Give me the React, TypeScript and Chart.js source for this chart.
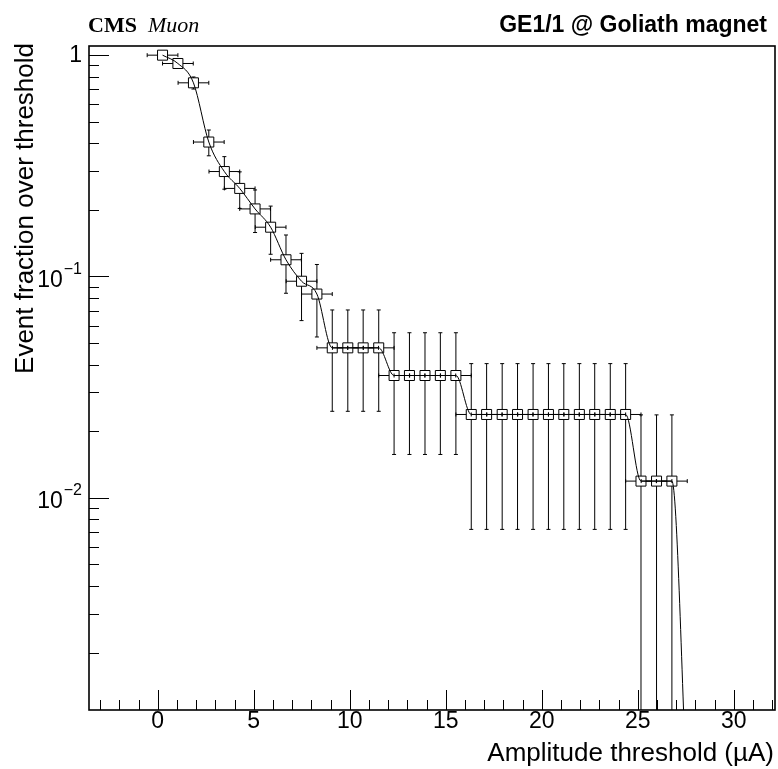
import { useEffect, useRef } from 'react';
import { Chart, registerables } from 'chart.js';

Chart.register(...registerables);

// ---- data ----
const X_VALUES = [
  0.25, 1.05, 1.86, 2.66, 3.47, 4.27, 5.07, 5.88, 6.68, 7.49, 8.29, 9.09, 9.9, 10.7, 11.51, 12.31,
  13.11, 13.92, 14.72, 15.53, 16.33, 17.13, 17.94, 18.74, 19.55, 20.35, 21.15, 21.96, 22.76, 23.57,
  24.37, 25.17, 25.98, 26.78, 27.59,
];
const Y_VALUES = [
  1.0, 0.917, 0.75, 0.405, 0.298, 0.25, 0.202, 0.167, 0.119, 0.0952, 0.0833, 0.0476, 0.0476, 0.0476,
  0.0476, 0.0357, 0.0357, 0.0357, 0.0357, 0.0357, 0.0238, 0.0238, 0.0238, 0.0238, 0.0238, 0.0238,
  0.0238, 0.0238, 0.0238, 0.0238, 0.0238, 0.0119, 0.0119, 0.0119, 0.0004,
];
const Y_ERRORS = [
  0, 0.03, 0.047, 0.054, 0.05, 0.047, 0.044, 0.041, 0.035, 0.032, 0.03, 0.023, 0.023, 0.023, 0.023,
  0.02, 0.02, 0.02, 0.02, 0.02, 0.0166, 0.0166, 0.0166, 0.0166, 0.0166, 0.0166, 0.0166, 0.0166,
  0.0166, 0.0166, 0.0166, 0.0118, 0.0118, 0.0118, 0,
];
const X_ERROR = 0.8;

const X_MIN = -3.58;
const X_MAX = 32.15;
const Y_MIN = 0.0011;
const Y_MAX = 1.1;

const X_MAJOR_TICKS = [0, 5, 10, 15, 20, 25, 30];
const X_TICK_LABELS = ['0', '5', '10', '15', '20', '25', '30'];
const X_MINOR_TICKS = [
  -3, -2, -1, 1, 2, 3, 4, 6, 7, 8, 9, 11, 12, 13, 14, 16, 17, 18, 19, 21, 22, 23, 24, 26, 27, 28, 29,
  31, 32,
];
const Y_MAJOR_TICKS = [1, 0.1, 0.01];
const Y_TICK_BASES = ['1', '10', '10'];
const Y_TICK_EXPONENTS = ['', '\u22121', '\u22122'];
const Y_MINOR_TICKS = [
  0.9, 0.8, 0.7, 0.6, 0.5, 0.4, 0.3, 0.2, 0.09, 0.08, 0.07, 0.06, 0.05, 0.04, 0.03, 0.02, 0.009,
  0.008, 0.007, 0.006, 0.005, 0.004, 0.003, 0.002,
];

const X_TITLE = 'Amplitude threshold (\u00b5A)';
const Y_TITLE = 'Event fraction over threshold';
const HEADER_BOLD = 'CMS';
const HEADER_ITALIC = 'Muon';
const HEADER_RIGHT = 'GE1/1 @ Goliath magnet';

const SANS = '"Liberation Sans", Arial, sans-serif';
const SERIF = '"Liberation Serif", "Times New Roman", serif';
const MARKER_GAP = 5;
const CAP = 2;

function seg(ctx: CanvasRenderingContext2D, x1: number, y1: number, x2: number, y2: number) {
  ctx.beginPath();
  ctx.moveTo(x1, y1);
  ctx.lineTo(x2, y2);
  ctx.stroke();
}

const errorBarsPlugin = {
  id: 'errorBars',
  beforeDatasetsDraw(chart: any) {
    const { ctx, chartArea: a, scales } = chart;
    const xs = scales.x;
    const ys = scales.y;
    ctx.save();
    ctx.beginPath();
    ctx.rect(a.left, a.top, a.right - a.left, a.bottom - a.top);
    ctx.clip();
    ctx.strokeStyle = '#000';
    ctx.lineWidth = 1;
    for (let i = 0; i < X_VALUES.length; i++) {
      const v = Y_VALUES[i];
      const px = xs.getPixelForValue(X_VALUES[i]);
      const py = ys.getPixelForValue(v);
      if (py > a.bottom + 20) continue;
      const xl = xs.getPixelForValue(X_VALUES[i] - X_ERROR);
      const xr = xs.getPixelForValue(X_VALUES[i] + X_ERROR);
      seg(ctx, xl, py, px - MARKER_GAP, py);
      seg(ctx, px + MARKER_GAP, py, xr, py);
      seg(ctx, xl, py - CAP, xl, py + CAP);
      seg(ctx, xr, py - CAP, xr, py + CAP);
      const e = Y_ERRORS[i];
      if (e > 0) {
        const top = ys.getPixelForValue(v + e);
        const low = v - e;
        const bot = low > 0 ? ys.getPixelForValue(low) : a.bottom + 10;
        if (py - top > MARKER_GAP) {
          seg(ctx, px, py - MARKER_GAP, px, top);
          seg(ctx, px - CAP, top, px + CAP, top);
        }
        if (bot - py > MARKER_GAP) {
          seg(ctx, px, py + MARKER_GAP, px, bot);
          seg(ctx, px - CAP, bot, px + CAP, bot);
        }
      }
    }
    ctx.restore();
  },
};

const rootAxesPlugin = {
  id: 'rootAxes',
  afterDraw(chart: any) {
    const { ctx, chartArea: a, scales } = chart;
    const xs = scales.x;
    const ys = scales.y;
    ctx.save();
    ctx.strokeStyle = '#000';
    ctx.fillStyle = '#000';

    // ticks
    ctx.lineWidth = 1;
    for (const t of X_MAJOR_TICKS) {
      const px = Math.round(xs.getPixelForValue(t)) + 0.5;
      seg(ctx, px, a.bottom, px, a.bottom - 20);
    }
    for (const t of X_MINOR_TICKS) {
      const px = Math.round(xs.getPixelForValue(t)) + 0.5;
      seg(ctx, px, a.bottom, px, a.bottom - 10);
    }
    for (const t of Y_MAJOR_TICKS) {
      const py = Math.round(ys.getPixelForValue(t)) + 0.5;
      seg(ctx, a.left, py, a.left + 20, py);
    }
    for (const t of Y_MINOR_TICKS) {
      const py = Math.round(ys.getPixelForValue(t)) + 0.5;
      seg(ctx, a.left, py, a.left + 10, py);
    }

    // frame
    ctx.lineWidth = 1.6;
    ctx.strokeRect(a.left, a.top, a.right - a.left, a.bottom - a.top);

    // x tick labels
    ctx.font = `23px ${SANS}`;
    ctx.textAlign = 'center';
    ctx.textBaseline = 'alphabetic';
    X_MAJOR_TICKS.forEach((t, i) => {
      ctx.fillText(X_TICK_LABELS[i], xs.getPixelForValue(t), a.bottom + 18);
    });

    // y tick labels
    const labelRight = a.left - 7;
    Y_MAJOR_TICKS.forEach((t, i) => {
      const py = ys.getPixelForValue(t);
      const exp = Y_TICK_EXPONENTS[i];
      if (!exp) {
        ctx.font = `23px ${SANS}`;
        ctx.textAlign = 'right';
        ctx.textBaseline = 'middle';
        ctx.fillText(Y_TICK_BASES[i], labelRight, py);
      } else {
        ctx.font = `16px ${SANS}`;
        const ew = ctx.measureText(exp).width;
        ctx.textAlign = 'right';
        ctx.textBaseline = 'middle';
        ctx.fillText(exp, labelRight, py - 7);
        ctx.font = `23px ${SANS}`;
        ctx.fillText(Y_TICK_BASES[i], labelRight - ew - 1, py + 4);
      }
    });

    // axis titles
    ctx.font = `26px ${SANS}`;
    ctx.textAlign = 'right';
    ctx.textBaseline = 'alphabetic';
    ctx.fillText(X_TITLE, a.right - 1, 761);

    ctx.save();
    ctx.translate(33, a.top - 3);
    ctx.rotate(-Math.PI / 2);
    ctx.textAlign = 'right';
    ctx.fillText(Y_TITLE, 0, 0);
    ctx.restore();

    // header texts
    ctx.textAlign = 'left';
    ctx.font = `bold 22px ${SERIF}`;
    ctx.fillText(HEADER_BOLD, 88, 32);
    ctx.font = `italic 22px ${SERIF}`;
    ctx.fillText(HEADER_ITALIC, 148, 32);
    ctx.textAlign = 'right';
    ctx.font = `bold 23px ${SANS}`;
    ctx.fillText(HEADER_RIGHT, 767, 32);

    ctx.restore();
  },
};

export default function App() {
  const canvasRef = useRef<HTMLCanvasElement | null>(null);

  useEffect(() => {
    const canvas = canvasRef.current;
    if (!canvas) return;
    const chart = new Chart(canvas, {
      type: 'scatter',
      data: {
        datasets: [
          {
            data: X_VALUES.map((x, i) => ({ x, y: Y_VALUES[i] })),
            showLine: true,
            borderColor: '#000',
            borderWidth: 1,
            cubicInterpolationMode: 'monotone',
            pointStyle: 'rect',
            pointRadius: 7.07,
            pointHoverRadius: 7.07,
            pointBorderWidth: 1,
            pointBorderColor: '#000',
            pointBackgroundColor: 'rgba(0,0,0,0)',
            clip: 0,
          } as any,
        ],
      },
      options: {
        animation: false,
        responsive: false,
        events: [],
        layout: { autoPadding: false, padding: { left: 89, right: 3, top: 46, bottom: 59 } } as any,
        elements: { line: { capBezierPoints: false } as any },
        plugins: {
          legend: { display: false },
          tooltip: { enabled: false },
        },
        scales: {
          x: { type: 'linear', min: X_MIN, max: X_MAX, display: false },
          y: { type: 'logarithmic', min: Y_MIN, max: Y_MAX, display: false },
        },
      },
      plugins: [errorBarsPlugin, rootAxesPlugin],
    });
    return () => chart.destroy();
  }, []);

  return (
    <div style={{ position: 'absolute', left: 0, top: 0, width: 778, height: 769, background: '#fff' }}>
      <canvas ref={canvasRef} width={778} height={769} style={{ width: 778, height: 769, display: 'block' }} />
    </div>
  );
}
